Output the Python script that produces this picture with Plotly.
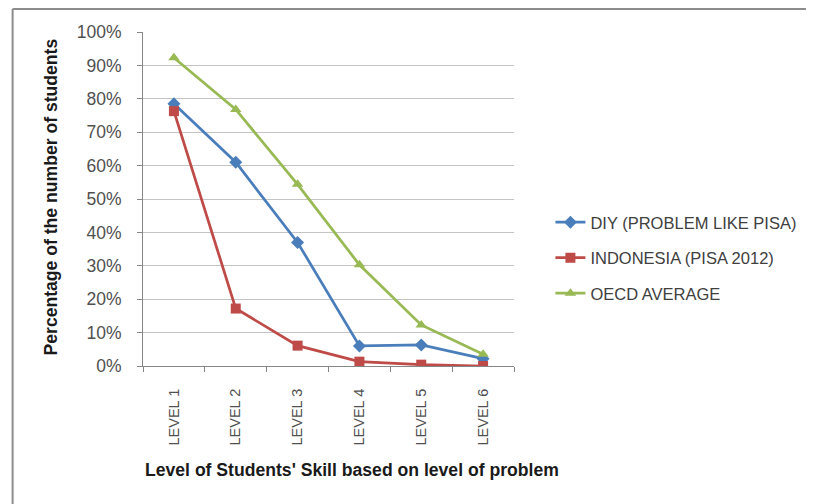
import plotly.graph_objects as go

levels = ["LEVEL 1", "LEVEL 2", "LEVEL 3", "LEVEL 4", "LEVEL 5", "LEVEL 6"]
diy = [0.785, 0.61, 0.37, 0.06, 0.063, 0.022]
indonesia = [0.763, 0.172, 0.061, 0.013, 0.004, 0.0]
oecd = [0.923, 0.768, 0.544, 0.303, 0.123, 0.035]
y_ticks = [0, 0.1, 0.2, 0.3, 0.4, 0.5, 0.6, 0.7, 0.8, 0.9, 1.0]
y_tick_text = ["0%", "10%", "20%", "30%", "40%", "50%", "60%", "70%", "80%", "90%", "100%"]
x_title = "Level of Students' Skill based on level of problem"
y_title = "Percentage of the number of students"

FONT = "'Liberation Sans', Arial, sans-serif"

fig = go.Figure()
fig.add_trace(go.Scatter(x=levels, y=diy, name="DIY (PROBLEM LIKE PISA)", mode="lines+markers",
                         line=dict(color="#4a7ebb", width=2.75),
                         marker=dict(symbol="diamond", size=10, color="#4a7ebb"),
                         legendgroup="a"))
fig.add_trace(go.Scatter(x=levels, y=indonesia, name="INDONESIA (PISA 2012)", mode="lines+markers",
                         line=dict(color="#be4b48", width=2.75),
                         marker=dict(symbol="square", size=10, color="#be4b48"),
                         legendgroup="b"))
fig.add_trace(go.Scatter(x=levels, y=oecd, name="OECD AVERAGE", mode="lines+markers",
                         line=dict(color="#98b954", width=2.75),
                         marker=dict(symbol="triangle-up", size=10, color="#98b954"),
                         legendgroup="c"))

W, H = 806, 496
L, T = 135, 24
R, B = W - 512, H - 358
pw, ph = W - L - R, H - T - B

def px(x):
    return (x - L) / pw

def py(y):
    return (T + ph - y) / ph

fig.update_layout(
    width=W, height=H,
    margin=dict(l=L, r=R, t=T, b=B),
    paper_bgcolor="white", plot_bgcolor="white",
    font=dict(family=FONT, size=16, color="#404040"),
    showlegend=True,
    legend=dict(x=px(549), xanchor="left", y=py(197), yanchor="top",
                tracegroupgap=11, font=dict(size=16.5, color="#404040"),
                bgcolor="rgba(0,0,0,0)"),
    xaxis=dict(type="category", showgrid=False, showline=True, linecolor="#868686", linewidth=1,
               ticks="outside", tickson="boundaries", ticklen=5, tickcolor="#868686",
               tickangle=-90, tickfont=dict(size=14.5, color="#505050"),
               ticklabelstandoff=16, range=[-0.5, 5.5]),
    yaxis=dict(range=[0, 1.0], tickvals=y_ticks, ticktext=y_tick_text,
               showgrid=True, gridcolor="#c4c4c4", gridwidth=1,
               showline=True, linecolor="#868686", linewidth=1,
               ticks="outside", ticklen=5, tickcolor="#868686",
               tickfont=dict(size=17.5, color="#505050"), zeroline=False,
               ticklabelstandoff=12),
    annotations=[
        dict(text="<b>" + x_title + "</b>", xref="paper", yref="paper",
             x=px(347), y=py(462), xanchor="center", yanchor="middle", showarrow=False,
             font=dict(size=17.6, color="#1a1a1a")),
        dict(text="<b>" + y_title + "</b>", xref="paper", yref="paper",
             x=px(42), y=py(189), xanchor="center", yanchor="middle", showarrow=False,
             textangle=-90, font=dict(size=17.6, color="#1a1a1a")),
    ],
    shapes=[
        dict(type="line", xref="paper", yref="paper",
             x0=px(2.5), x1=px(W + 5), y0=py(1), y1=py(1),
             line=dict(color="#8c8c8c", width=2)),
        dict(type="line", xref="paper", yref="paper",
             x0=px(2.5), x1=px(2.5), y0=py(1), y1=py(H + 5),
             line=dict(color="#8c8c8c", width=2)),
    ],
)

fig.write_html("out.html")
